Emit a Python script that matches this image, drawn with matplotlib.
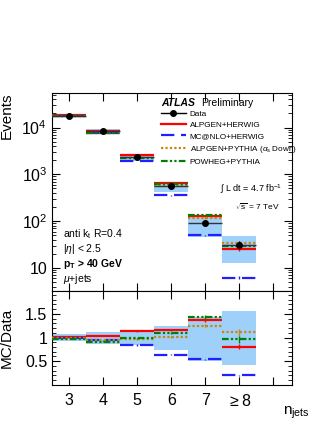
#!/usr/bin/env python3
import matplotlib as mpl
mpl.use("Agg")
import matplotlib.pyplot as plt
import numpy as np

mpl.rcParams["font.family"] = ["Liberation Sans", "DejaVu Sans"]
mpl.rcParams["mathtext.fontset"] = "custom"
mpl.rcParams["mathtext.rm"] = "Liberation Sans"
mpl.rcParams["mathtext.it"] = "Liberation Sans:italic"
mpl.rcParams["mathtext.bf"] = "Liberation Sans:bold"

# jet multiplicity bins (last one is >= 8)
njets = [3, 4, 5, 6, 7, 8]
njet_labels = ["3", "4", "5", "6", "7", r"$\geq$8"]

data_events = [1.8e4, 8.3e3, 2.3e3, 560, 93, 31]
data_err_rel = [0.01, 0.015, 0.03, 0.05, 0.1, 0.2]
# total uncertainty band, relative to data (low, high)
band_lo = [0.93, 0.87, 0.84, 0.74, 0.50, 0.42]
band_hi = [1.07, 1.11, 1.15, 1.25, 1.44, 1.57]

# MC / Data ratios
ratio_alpgen_herwig = [1.02, 1.04, 1.13, 1.15, 1.37, 0.81]
ratio_mcnlo_herwig = [1.00, 0.94, 0.84, 0.64, 0.54, 0.20]
ratio_alpgen_pythia = [0.99, 0.94, 0.97, 1.01, 1.25, 1.11]
ratio_powheg_pythia = [0.97, 0.91, 0.98, 1.09, 1.43, 0.96]
mc_err_rel = [0.005, 0.008, 0.015, 0.02, 0.03, 0.07]

series = [
    ("ALPGEN+HERWIG", ratio_alpgen_herwig, "#ff0000", "-"),
    ("MC@NLO+HERWIG", ratio_mcnlo_herwig, "#1f1fff", (0, (6, 3))),
    (r"ALPGEN+PYTHIA ($\alpha_{\mathrm{s}}$ Down)", ratio_alpgen_pythia, "#c8860b", (0, (1, 1))),
    ("POWHEG+PYTHIA", ratio_powheg_pythia, "#008000", (0, (3, 1, 1, 1, 1, 1))),
]

band_color = "#9fd0fa"

fig = plt.figure(figsize=(3.32, 4.30), dpi=100)
ax = fig.add_axes([0.157, 0.323, 0.723, 0.461])
rax = fig.add_axes([0.157, 0.105, 0.723, 0.218], sharex=ax)

x = np.array(njets)
data = np.array(data_events)
lo = x - 0.5
hi = x + 0.5

# uncertainty bands
ax.bar(x, data * (np.array(band_hi) - np.array(band_lo)), bottom=data * np.array(band_lo),
       width=1.0, color=band_color, linewidth=0, zorder=1)
rax.bar(x, np.array(band_hi) - np.array(band_lo), bottom=band_lo,
        width=1.0, color=band_color, linewidth=0, zorder=1)

handles = []
for name, ratio, col, ls in series:
    r = np.array(ratio)
    mc = r * data
    lw = 1.6
    ax.hlines(mc, lo, hi, colors=col, linestyles=ls, linewidth=lw, zorder=3)
    ax.vlines(x, mc * (1 - np.array(mc_err_rel)), mc * (1 + np.array(mc_err_rel)),
              colors=col, linewidth=1.0, zorder=3)
    rax.hlines(r, lo, hi, colors=col, linestyles=ls, linewidth=lw, zorder=3)
    rax.vlines(x, r * (1 - np.array(mc_err_rel)), r * (1 + np.array(mc_err_rel)),
               colors=col, linewidth=1.0, zorder=3)
    h, = ax.plot([], [], color=col, linestyle=ls, linewidth=lw, label=name)
    handles.append(h)

# data
ax.hlines(data, lo, hi, colors="#333333", linewidth=1.0, zorder=4)
ax.errorbar(x, data, yerr=data * np.array(data_err_rel), fmt="o", color="black",
            markersize=4.0, elinewidth=1.0, capsize=0, zorder=5)
hd, = ax.plot([], [], color="black", marker="o", markersize=4.0, linewidth=1.0, label="Data")
handles.insert(0, hd)

ax.set_yscale("log")
ax.set_ylim(3.2, 5.5e4)
ax.set_xlim(2.5, 9.55)
rax.set_ylim(0.0, 1.98)

for a in (ax, rax):
    a.tick_params(which="both", direction="in", top=True, right=True, labelsize=11.5)
    a.tick_params(which="major", length=6, width=0.8)
    a.tick_params(which="minor", length=3, width=0.6)
    for s in a.spines.values():
        s.set_linewidth(0.8)

ax.set_yticks([10, 100, 1000, 10000])
ax.set_yticklabels(["10", "$10^2$", "$10^3$", "$10^4$"])
ax.tick_params(axis="x", which="both", labelbottom=False)

rax.set_xticks([3, 4, 5, 6, 7, 8, 9])
rax.set_xticklabels(njet_labels + [""])
rax.set_yticks([0.5, 1.0, 1.5])
rax.set_yticklabels(["0.5", "1", "1.5"])
rax.set_yticks(np.arange(0.1, 2.0, 0.1), minor=True)
rax.tick_params(axis="x", which="minor", bottom=False, top=False)
rax.tick_params(axis="x", pad=6)

ax.set_ylabel("Events", fontsize=11, loc="top")
rax.set_ylabel("MC/Data", fontsize=11)
ax.yaxis.set_label_coords(-0.16, 1.0)
rax.yaxis.set_label_coords(-0.16, 0.5)
fig.text(0.853, 0.035, r"n$_{\mathrm{jets}}$", fontsize=11, ha="left")

ax.text(0.455, 0.95, "ATLAS", transform=ax.transAxes, fontsize=7.5, fontweight="bold",
        style="italic", va="center")
ax.text(0.62, 0.95, "Preliminary", transform=ax.transAxes, fontsize=7.5, va="center")
ax.legend(handles=handles, loc="upper left", bbox_to_anchor=(0.44, 0.93), frameon=False,
          fontsize=5.9, handlelength=3.0, labelspacing=0.42, handletextpad=0.5,
          borderaxespad=0.0)

ax.text(0.70, 0.50, r"$\int$ L dt = 4.7 fb$^{-1}$", transform=ax.transAxes, fontsize=6.5)
ax.text(0.76, 0.41, r"$\sqrt{\mathrm{s}}$ = 7 TeV", transform=ax.transAxes, fontsize=6)

ax.text(0.045, 0.27, r"anti k$_{\mathrm{t}}$ R=0.4", transform=ax.transAxes, fontsize=7.5)
ax.text(0.045, 0.195, r"|$\eta$| < 2.5", transform=ax.transAxes, fontsize=7.5)
ax.text(0.045, 0.12, r"$\mathbf{p_{T}}$ > 40 GeV", transform=ax.transAxes, fontsize=7.5,
        fontweight="bold")
ax.text(0.045, 0.045, r"$\mu$+jets", transform=ax.transAxes, fontsize=7.5)

fig.savefig("out.png", dpi=100)
